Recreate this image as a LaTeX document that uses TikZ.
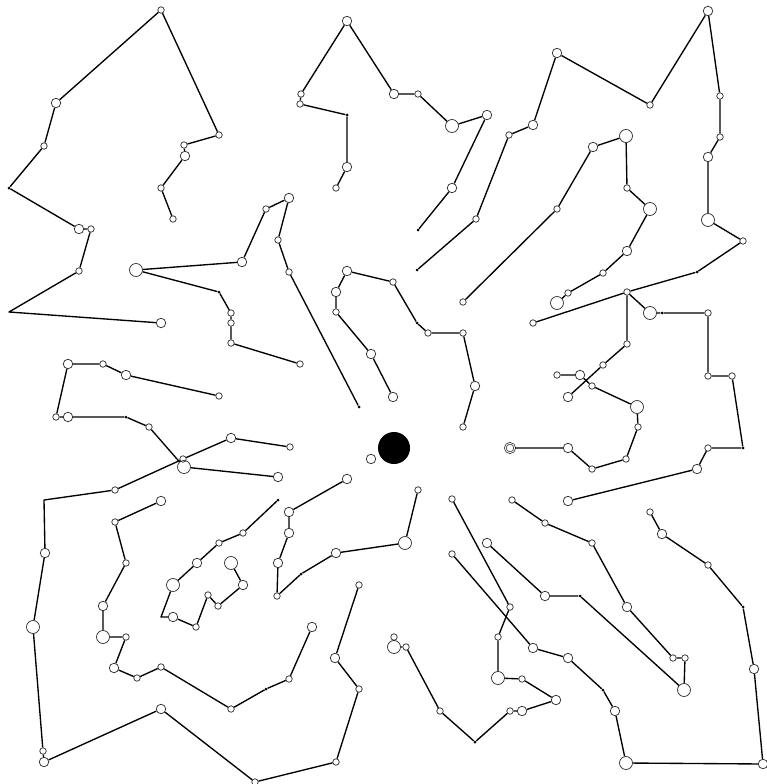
\documentclass[tikz,border=0pt]{standalone}
\begin{document}
\begin{tikzpicture}[x=1pt,y=-1pt,
  vs/.style={circle,draw=black!80,line width=0.75pt,inner sep=0pt,minimum size=6.5pt},
  vm/.style={circle,draw=black!80,line width=0.75pt,inner sep=0pt,minimum size=9.5pt},
  vl/.style={circle,draw=black!80,line width=0.75pt,inner sep=0pt,minimum size=13pt},
  vd/.style={circle,fill=black,inner sep=0pt,minimum size=3pt},
  ln/.style={draw=black,line width=1.35pt,line join=round}]
\path[use as bounding box] (0,0) rectangle (766,784);
% chain A
\node[vs] (a1) at (173,219) {};
\node[vs] (a2) at (161,188) {};
\node[vm] (a3) at (185,156) {};
\node[vs] (a4) at (184,145) {};
\node[vs] (a5) at (219,135) {};
\node[vs] (a6) at (161,10) {};
\node[vm] (a7) at (56,103) {};
\node[vs] (a8) at (44,146) {};
\node[vd] (a9) at (9,188) {};
\node[vm] (a10) at (79,229) {};
\node[vs] (a11) at (91,229) {};
\node[vs] (a12) at (79,271) {};
\coordinate (a13) at (9,312);
\node[vm] (a14) at (161,323) {};
\draw[ln] (a1)--(a2)--(a3)--(a4)--(a5)--(a6)--(a7)--(a8)--(a9)--(a10)--(a11)--(a12)--(a13)--(a14);
% chain B
\node[vs] (b1) at (300,364) {};
\node[vs] (b2) at (231,343) {};
\node[vs] (b3) at (231,323) {};
\node[vs] (b4) at (231,313) {};
\node[vd] (b5) at (219,292) {};
\node[vl] (b6) at (136,270) {};
\node[vm] (b7) at (242,262) {};
\node[vs] (b8) at (266,209) {};
\node[vm] (b9) at (289,198) {};
\node[vs] (b10) at (278,240) {};
\node[vs] (b11) at (289,272) {};
\node[vd] (b12) at (359,407) {};
\draw[ln] (b1)--(b2)--(b3)--(b4)--(b5)--(b6)--(b7)--(b8)--(b9)--(b10)--(b11)--(b12);
% chain C
\node[vs] (c1) at (219,396) {};
\node[vm] (c2) at (126,375) {};
\node[vs] (c3) at (103,364) {};
\node[vm] (c4) at (68,364) {};
\node[vs] (c5) at (56,417) {};
\node[vm] (c6) at (68,417) {};
\node[vd] (c7) at (126,417) {};
\node[vs] (c8) at (149,427) {};
\node[vl] (c9) at (184,467) {};
\node[vm] (c10) at (278,477) {};
\draw[ln] (c1)--(c2)--(c3)--(c4)--(c5)--(c6)--(c7)--(c8)--(c9)--(c10);
% chain D
\node[vs] (d1) at (290,447) {};
\node[vm] (d2) at (231,438) {};
\node[vs] (d3) at (183,459) {};
\node[vs] (d4) at (115,490) {};
\coordinate (d5) at (44,500);
\node[vm] (d6) at (45,553) {};
\node[vl] (d7) at (33,627) {};
\node[vs] (d8) at (43,751) {};
\node[vm] (d9) at (44,762) {};
\node[vm] (d10) at (161,709) {};
\node[vs] (d11) at (255,782) {};
\node[vs] (d12) at (336,762) {};
\node[vs] (d13) at (359,689) {};
\node[vm] (d14) at (335,658) {};
\node[vs] (d15) at (359,585) {};
\draw[ln] (d1)--(d2)--(d3)--(d4)--(d5)--(d6)--(d7)--(d8)--(d9)--(d10)--(d11)--(d12)--(d13)--(d14)--(d15);
% chain E
\node[vm] (e1) at (161,501) {};
\node[vs] (e2) at (115,522) {};
\node[vs] (e3) at (126,563) {};
\node[vm] (e4) at (103,606) {};
\node[vl] (e5) at (103,637) {};
\node[vs] (e6) at (126,637) {};
\node[vm] (e7) at (114,668) {};
\node[vs] (e8) at (137,678) {};
\node[vs] (e9) at (161,667) {};
\node[vs] (e10) at (231,709) {};
\node[vd] (e11) at (266,689) {};
\node[vs] (e12) at (289,679) {};
\node[vm] (e13) at (312,627) {};
\draw[ln] (e1)--(e2)--(e3)--(e4)--(e5)--(e6)--(e7)--(e8)--(e9)--(e10)--(e11)--(e12)--(e13);
% chain F
\node[vd] (f1) at (278,500) {};
\node[vs] (f2) at (243,533) {};
\node[vs] (f3) at (219,543) {};
\node[vm] (f4) at (197,563) {};
\node[vl] (f5) at (173,585) {};
\coordinate (f6) at (161,617);
\node[vm] (f7) at (173,617) {};
\node[vs] (f8) at (196,627) {};
\node[vs] (f9) at (208,595) {};
\node[vs] (f10) at (218,606) {};
\node[vm] (f11) at (243,585) {};
\node[vl] (f12) at (231,563) {};
\draw[ln] (f1)--(f2)--(f3)--(f4)--(f5)--(f6)--(f7)--(f8)--(f9)--(f10)--(f11)--(f12);
% chain G
\node[vm] (g1) at (347,479) {};
\node[vm] (g2) at (289,512) {};
\node[vm] (g3) at (289,533) {};
\node[vm] (g4) at (278,563) {};
\node[vs] (g5) at (277,596) {};
\node[vd] (g6) at (301,574) {};
\node[vm] (g7) at (336,553) {};
\node[vl] (g8) at (405,543) {};
\node[vs] (g9) at (418,490) {};
\draw[ln] (g1)--(g2)--(g3)--(g4)--(g5)--(g6)--(g7)--(g8)--(g9);
% chain H
\node[vm] (h1) at (393,397) {};
\node[vm] (h2) at (371,354) {};
\node[vs] (h3) at (336,312) {};
\node[vm] (h4) at (336,292) {};
\node[vm] (h5) at (347,271) {};
\node[vs] (h6) at (393,282) {};
\node[vd] (h7) at (417,323) {};
\node[vs] (h8) at (428,333) {};
\node[vs] (h9) at (463,333) {};
\node[vm] (h10) at (475,386) {};
\node[vs] (h11) at (463,427) {};
\draw[ln] (h1)--(h2)--(h3)--(h4)--(h5)--(h6)--(h7)--(h8)--(h9)--(h10)--(h11);
% centre
\node[circle,fill=black,inner sep=0pt,minimum size=32pt] (z0) at (394,448) {};
\node[vm] (z1) at (371,459) {};
% chain I
\node[vs] (i1) at (336,188) {};
\node[vm] (i2) at (347,167) {};
\node[vd] (i3) at (347,115) {};
\node[vs] (i4) at (300,104) {};
\node[vs] (i5) at (301,94) {};
\node[vm] (i6) at (347,21) {};
\node[vm] (i7) at (394,94) {};
\node[vs] (i8) at (418,94) {};
\node[vl] (i9) at (452,126) {};
\node[vm] (i10) at (487,115) {};
\node[vm] (i11) at (452,188) {};
\node[vd] (i12) at (418,230) {};
\draw[ln] (i1)--(i2)--(i3)--(i4)--(i5)--(i6)--(i7)--(i8)--(i9)--(i10)--(i11)--(i12);
% chain J
\node[vd] (j1) at (417,270) {};
\node[vs] (j2) at (476,219) {};
\node[vs] (j3) at (509,135) {};
\node[vm] (j4) at (533,125) {};
\node[vm] (j5) at (557,53) {};
\node[vs] (j6) at (650,105) {};
\node[vm] (j7) at (708,11) {};
\node[vs] (j8) at (720,96) {};
\node[vs] (j9) at (720,137) {};
\node[vm] (j10) at (708,157) {};
\node[vl] (j11) at (708,220) {};
\node[vs] (j12) at (743,241) {};
\node[vd] (j13) at (697,272) {};
\node[vs] (j14) at (627,292) {};
\draw[ln] (j1)--(j2)--(j3)--(j4)--(j5)--(j6)--(j7)--(j8)--(j9)--(j10)--(j11)--(j12)--(j13)--(j14);
% branches from j14
\node[vs] (l1) at (533,323) {};
\draw[ln] (j14)--(l1);
\node[vs] (l2) at (627,344) {};
\node[vs] (l3) at (603,365) {};
\node[vm] (l4) at (568,397) {};
\draw[ln] (j14)--(l2)--(l3)--(l4);
\node[vl] (l5) at (650,313) {};
\node[vd] (l6) at (662,313) {};
\node[vs] (l7) at (708,313) {};
\node[vs] (l8) at (708,376) {};
\node[vs] (l9) at (732,376) {};
\node[vd] (l10) at (743,448) {};
\node[vs] (l11) at (708,448) {};
\node[vm] (l12) at (697,469) {};
\node[vm] (l13) at (568,501) {};
\draw[ln] (j14)--(l5)--(l6)--(l7)--(l8)--(l9)--(l10)--(l11)--(l12)--(l13);
% chain P
\node[vs] (p1) at (557,375) {};
\node[vm] (p2) at (580,375) {};
\node[vs] (p3) at (592,386) {};
\node[vl] (p4) at (637,407) {};
\node[vs] (p5) at (638,427) {};
\node[vs] (p6) at (626,459) {};
\node[vs] (p7) at (592,469) {};
\node[vm] (p8) at (568,448) {};
\node[vm,double,double distance=0.8pt] (p9) at (510,448) {};
\draw[ln] (p1)--(p2)--(p3)--(p4)--(p5)--(p6)--(p7)--(p8)--(p9);
% chain K
\node[vs] (k1) at (463,302) {};
\node[vs] (k2) at (557,209) {};
\node[vm] (k3) at (593,147) {};
\node[vl] (k4) at (626,136) {};
\node[vs] (k5) at (627,188) {};
\node[vl] (k6) at (650,209) {};
\node[vm] (k7) at (627,251) {};
\node[vs] (k8) at (603,273) {};
\node[vs] (k9) at (568,293) {};
\node[vl] (k10) at (557,303) {};
\draw[ln] (k1)--(k2)--(k3)--(k4)--(k5)--(k6)--(k7)--(k8)--(k9)--(k10);
% chain M
\node[vs] (m1) at (512,500) {};
\node[vs] (m2) at (545,523) {};
\node[vs] (m3) at (592,543) {};
\node[vm] (m4) at (627,607) {};
\node[vs] (m5) at (673,658) {};
\node[vs] (m6) at (685,658) {};
\node[vl] (m7) at (684,690) {};
\node[vd] (m8) at (580,596) {};
\node[vm] (m9) at (545,596) {};
\node[vm] (m10) at (487,543) {};
\draw[ln] (m1)--(m2)--(m3)--(m4)--(m5)--(m6)--(m7)--(m8)--(m9)--(m10);
% chain N
\node[vs] (n1) at (650,512) {};
\node[vm] (n2) at (662,534) {};
\node[vs] (n3) at (708,565) {};
\node[vd] (n4) at (743,607) {};
\node[vm] (n5) at (754,669) {};
\node[vm] (n6) at (763,764) {};
\node[vl] (n7) at (626,763) {};
\node[vm] (n8) at (615,711) {};
\node[vd] (n9) at (603,690) {};
\node[vm] (n10) at (568,658) {};
\node[vm] (n11) at (533,648) {};
\node[vs] (n12) at (452,554) {};
\draw[ln] (n1)--(n2)--(n3)--(n4)--(n5)--(n6)--(n7)--(n8)--(n9)--(n10)--(n11)--(n12);
% chain O
\node[vs] (o1) at (452,499) {};
\node[vs] (o2) at (510,607) {};
\node[vs] (o3) at (498,637) {};
\node[vl] (o4) at (498,678) {};
\node[vs] (o5) at (522,679) {};
\node[vm] (o6) at (556,700) {};
\node[vm] (o7) at (522,711) {};
\node[vs] (o8) at (510,711) {};
\node[vd] (o9) at (475,742) {};
\node[vs] (o10) at (440,711) {};
\node[vs] (o11) at (406,647) {};
\node[vl] (o12) at (394,647) {};
\node[vs] (o13) at (394,637) {};
\draw[ln] (o1)--(o2)--(o3)--(o4)--(o5)--(o6)--(o7)--(o8)--(o9)--(o10)--(o11)--(o12)--(o13);
\end{tikzpicture}
\end{document}
